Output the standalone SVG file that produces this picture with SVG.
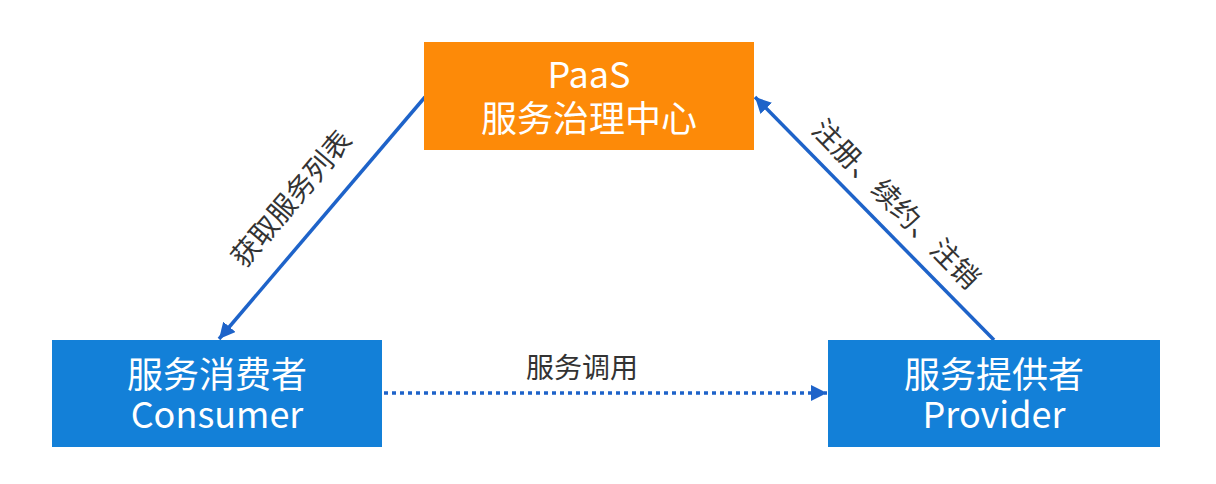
<svg xmlns="http://www.w3.org/2000/svg" width="1216" height="484" viewBox="0 0 1216 484">
<style>
.box-text{font-family:"Noto Sans CJK SC","Liberation Sans",sans-serif;font-size:36px;fill:#ffffff;text-anchor:middle}
.lbl{font-family:"Noto Sans CJK SC","Liberation Sans",sans-serif;font-size:28px;fill:#333333;text-anchor:middle}
.conn{stroke:#1E63C9;stroke-width:3.5;fill:none}
</style>
<defs>
<marker id="arr" markerUnits="userSpaceOnUse" markerWidth="20" markerHeight="16" refX="16" refY="8" orient="auto">
<path d="M0,0 L16,8 L0,16 Z" fill="#1E63C9"/>
</marker>
</defs>
<rect width="1216" height="484" fill="#ffffff"/>
<g id="connectors">
<line class="conn" x1="425" y1="97" x2="219" y2="339" marker-end="url(#arr)"/>
<line class="conn" x1="994" y1="340" x2="755" y2="97" marker-end="url(#arr)"/>
<line class="conn" x1="384" y1="393" x2="827" y2="393" stroke-dasharray="4 4" marker-end="url(#arr)"/>
<text class="lbl" transform="translate(299,205) rotate(-49.6)">获取服务列表</text>
<text class="lbl" transform="translate(889,211) rotate(45.4)">注册、续约、注销</text>
<text class="lbl" x="582" y="378">服务调用</text>
</g>
<g id="paas">
<rect x="424" y="42" width="330" height="108" fill="#FD8A08"/>
<text class="box-text" x="589" y="88">PaaS</text>
<text class="box-text" x="589" y="132">服务治理中心</text>
</g>
<g id="consumer">
<rect x="52" y="340" width="330" height="107" fill="#1380D8"/>
<text class="box-text" x="217" y="388">服务消费者</text>
<text class="box-text" x="217" y="428">Consumer</text>
</g>
<g id="provider">
<rect x="828" y="340" width="332" height="107" fill="#1380D8"/>
<text class="box-text" x="994" y="388">服务提供者</text>
<text class="box-text" x="994" y="428">Provider</text>
</g>
</svg>
